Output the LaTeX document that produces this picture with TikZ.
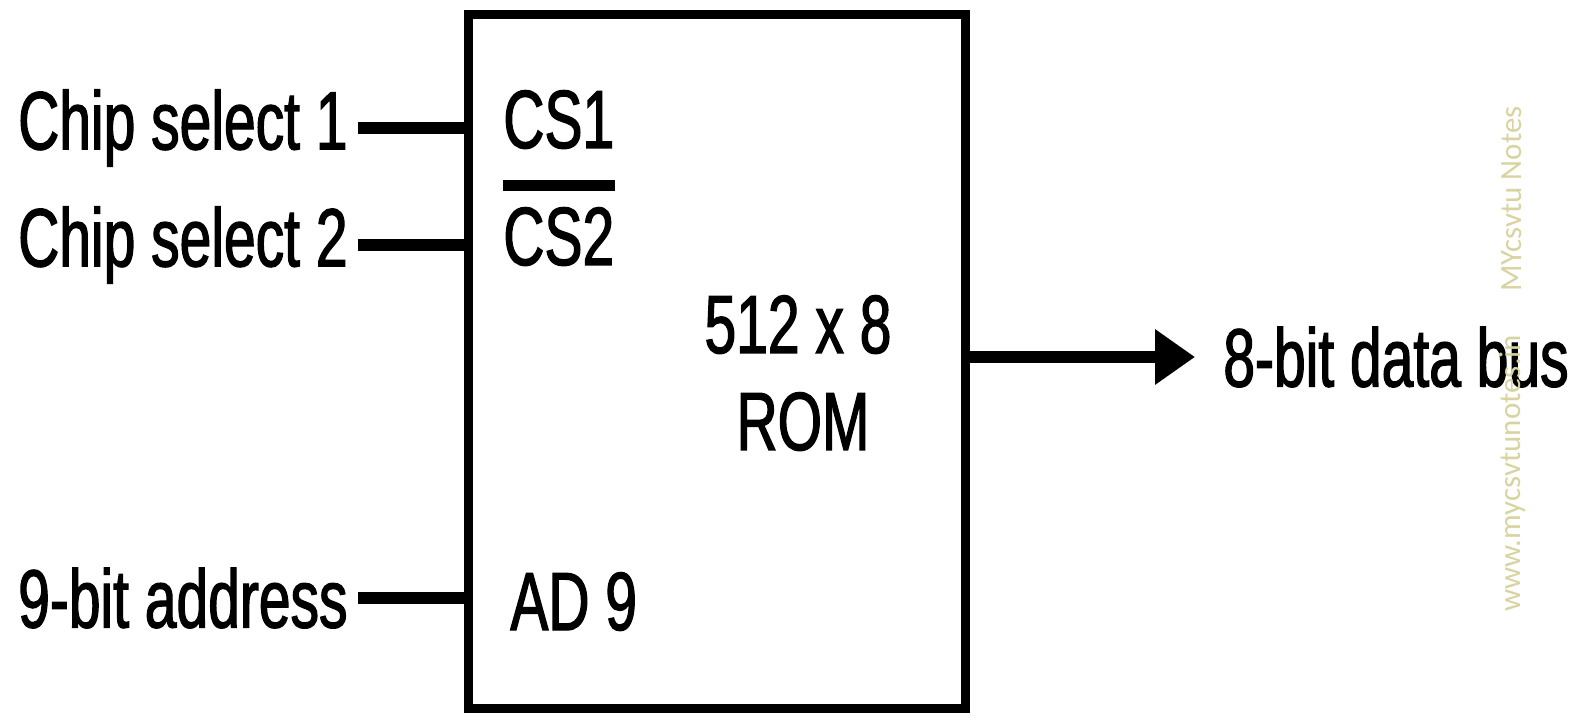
\documentclass[tikz,border=0pt]{standalone}
\usepackage{fontspec}
\setmainfont{Liberation Sans}[FakeStretch=0.69,FakeBold=1.5]
\newfontfamily\wmfont{Carlito}
\usetikzlibrary{arrows.meta}
\definecolor{wmcol}{RGB}{216,211,160}
\tikzset{
  box/.style={draw, line width=0.18cm, inner sep=0pt},
  pin/.style={line width=0.24cm},
  bus/.style={line width=0.24cm, -{Triangle[length=0.8cm,width=1.06cm]}},
  lbl/.style={font=\fontsize{47pt}{56pt}\selectfont, inner ysep=0pt, inner xsep=0.2cm},
  pinlbl/.style={font=\fontsize{47pt}{56pt}\selectfont, inner sep=0pt},
  wmark/.style={font=\wmfont\fontsize{17.6pt}{20pt}\selectfont, text=wmcol, inner sep=0pt, rotate=90, anchor=west}
}
\begin{document}
\begin{tikzpicture}
    \useasboundingbox (0,0) rectangle (31.52,14.34);
    \node[box, minimum width=9.94cm, minimum height=13.86cm] (rom) at (14.33,7.11) {};
    \node[lbl, anchor=east] (sel1) at (7.16,11.78) {Chip select 1};
    \node[lbl, anchor=east] (sel2) at (7.16,9.44) {Chip select 2};
    \node[lbl, anchor=east] (addr) at (7.16,2.38) {9-bit address};
    \draw[pin] (sel1.east) -- (sel1.east -| rom.west);
    \draw[pin] (sel2.east) -- (sel2.east -| rom.west);
    \draw[pin] (addr.east) -- (addr.east -| rom.west);
    \node[pinlbl, anchor=base west] (cs1) at (10.06,11.38) {CS1};
    \node[pinlbl, anchor=base west] (cs2) at (10.06,9.04) {CS2};
    \draw[line width=0.22cm] ([yshift=0.42cm]cs2.north west) -- ([yshift=0.42cm]cs2.north east);
    \node[pinlbl, anchor=base west] (ad) at (10.2,1.74) {AD 9};
    \node[pinlbl, anchor=base] (size) at (15.96,7.28) {512 x 8};
    \node[pinlbl, anchor=base] (kind) at (16.06,5.34) {ROM};
    \node[lbl, anchor=west, inner xsep=0.56cm] (data) at (23.9,7.2) {8-bit data bus};
    \draw[bus] (rom.east |- data.west) -- (data.west);
    \node[wmark] (wm1) at (30.24,2.1) {www.mycsvtunotes.in};
    \node[wmark] (wm2) at (30.24,8.5) {MYcsvtu Notes};
\end{tikzpicture}
\end{document}
